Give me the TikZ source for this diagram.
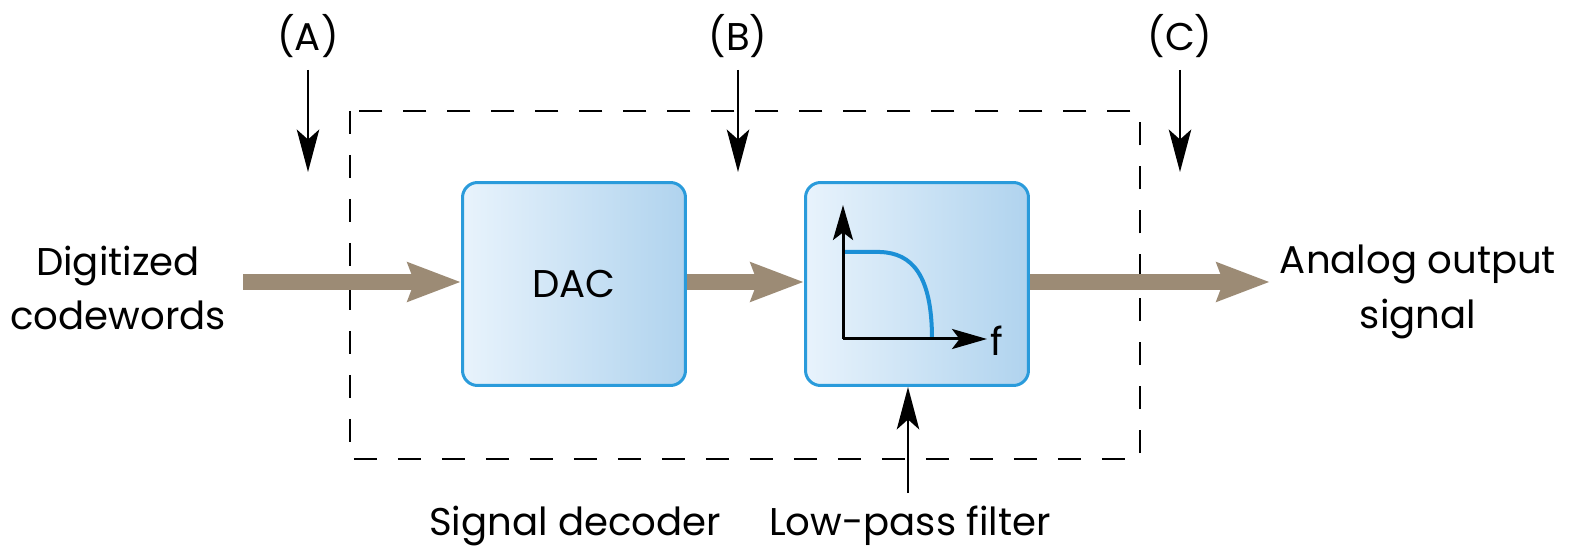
\documentclass[tikz,border=0pt]{standalone}
\usepackage{fontspec}
\setmainfont{Poppins}
\usetikzlibrary{arrows.meta}
\definecolor{taupe}{HTML}{9C8B75}
\definecolor{boxblue}{HTML}{2A9BDB}
\definecolor{lightL}{HTML}{E8F3FC}
\definecolor{lightR}{HTML}{B0D3EE}
\definecolor{curveblue}{HTML}{1B8FD6}
\tikzset{
  lbl/.style={font=\fontsize{22}{31}\selectfont, align=center, inner sep=0pt},
  blockbox/.style={draw=boxblue, line width=0.06cm, rounded corners=0.3cm,
    left color=lightL, right color=lightR, minimum width=4.46cm, minimum height=4.06cm, inner sep=0pt},
  bigarrow/.style={draw=taupe, line width=0.34cm, -{Stealth[length=1.05cm,width=0.75cm,inset=0.12cm,fill=taupe]}},
  smallarrow/.style={draw=black, line width=0.04cm, -{Stealth[length=0.85cm,width=0.45cm,inset=0.2cm]}},
  axisarrow/.style={draw=black, line width=0.06cm, -{Stealth[length=0.7cm,width=0.4cm,inset=0.15cm]}},
  decoderbox/.style={draw=black, line width=0.04cm, dash pattern=on 0.46cm off 0.42cm}
}
\begin{document}
\begin{tikzpicture}[x=0.02cm,y=-0.02cm]
\useasboundingbox (0,0) rectangle (1573,557);
% dashed signal decoder outline
\draw[decoderbox] (350,111) rectangle (1140,459);
% blocks
\node[blockbox] (dac) at (574,284) {};
\node[lbl] at (dac.center) {DAC};
\node[blockbox] (lpf) at (917,284) {};
% filter graph
\coordinate (org) at (843,339);
\coordinate (ytip) at (843,205);
\coordinate (xtip) at (987,339);
\draw[curveblue, line width=0.08cm] (845,252) -- (880,252) .. controls (912,253) and (932,275) .. (932,339);
\draw[axisarrow] (org) -- (ytip);
\draw[axisarrow] (org) -- (xtip);
\node[lbl, anchor=west] (f) at (990,341) {f};
% main signal arrows
\coordinate (in) at (243,282);
\coordinate (out) at (1270,282);
\draw[bigarrow] (in) -- (dac.west |- in);
\draw[bigarrow] (dac.east |- in) -- (lpf.west |- in);
\draw[bigarrow] (lpf.east |- in) -- (out);
% texts
\node[lbl] (din) at (118,288) {Digitized\\codewords};
\node[lbl] (aout) at (1418,292) {Analog output\\signal};
\node[lbl] (la) at (308,36) {(A)};
\node[lbl] (lb) at (738,36) {(B)};
\node[lbl] (lc) at (1180,36) {(C)};
\node[lbl] (sd) at (575,526) {Signal decoder};
\node[lbl] (lp) at (910,526) {Low-pass filter};
% probe arrows
\coordinate (a1) at (308,70); \coordinate (a2) at (308,172);
\coordinate (b1) at (738,70); \coordinate (b2) at (738,172);
\coordinate (c1) at (1180,70); \coordinate (c2) at (1180,172);
\draw[smallarrow] (a1) -- (a2);
\draw[smallarrow] (b1) -- (b2);
\draw[smallarrow] (c1) -- (c2);
\coordinate (lp1) at (908,493);
\draw[smallarrow] (lp1) -- (lpf.south -| lp1);
\end{tikzpicture}
\end{document}
